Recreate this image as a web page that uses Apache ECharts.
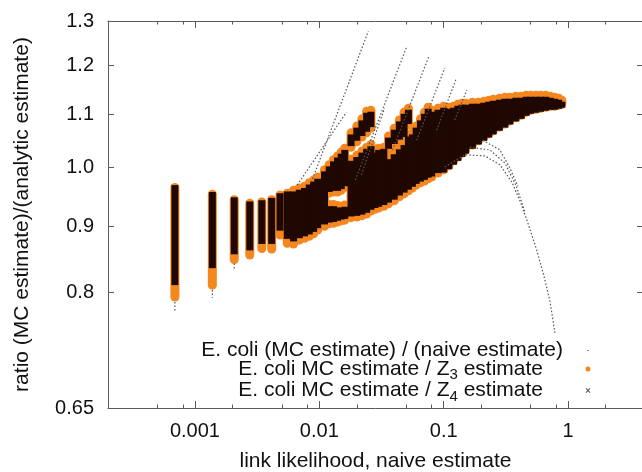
<!DOCTYPE html>
<html>
<head>
<meta charset="utf-8">
<script src="https://cdn.jsdelivr.net/npm/echarts@6/dist/echarts.min.js"></script>
<style>
  html, body { margin: 0; padding: 0; background: #fff; }
  #main { width: 642px; height: 472px; }
</style>
</head>
<body>
<div id="main"></div>
<script>
// ticks
const xMajorTicks = [0.001, 0.01, 0.1, 1];
const xMajorLabels = ['0.001', '0.01', '0.1', '1'];
const xMinorTicks = [0.0005, 0.0008, 0.002, 0.005, 0.008, 0.02, 0.05, 0.08, 0.2, 0.5, 0.8, 2];
const yTicks = [0.65, 0.8, 0.9, 1.0, 1.1, 1.2, 1.3];
const yLabels = ['0.65', '0.8', '0.9', '1.0', '1.1', '1.2', '1.3'];

// E. coli MC estimate / Z3 estimate : columns of points [x, low, high]
const z3Columns = [
  [0.00069, 0.793, 0.965], [0.00138, 0.810, 0.953], [0.00207, 0.848, 0.944], [0.00276, 0.855, 0.938],
  [0.00345, 0.865, 0.940], [0.00414, 0.864, 0.944], [0.00483, 0.886, 0.952], [0.00552, 0.873, 0.955],
  [0.0062, 0.872, 0.960], [0.0069, 0.878, 0.964], [0.0076, 0.881, 0.967], [0.0083, 0.884, 0.973],
  [0.0090, 0.888, 0.978], [0.0097, 0.894, 0.983], [0.011, 0.900, 0.996],
  [0.012, 0.955, 1.005], [0.012, 0.904, 0.936],
  [0.013, 0.957, 1.014], [0.013, 0.905, 0.936],
  [0.014, 0.957, 1.021], [0.014, 0.907, 0.934],
  [0.015, 0.960, 1.028], [0.015, 0.909, 0.933],
  [0.016, 0.965, 1.035], [0.016, 0.910, 0.935],
  [0.018, 1.037, 1.064], [0.018, 0.914, 1.015],
  [0.020, 1.047, 1.077], [0.020, 0.915, 1.022],
  [0.022, 1.056, 1.091], [0.022, 0.917, 1.030],
  [0.024, 1.064, 1.106], [0.024, 0.920, 1.037],
  [0.026, 1.073, 1.108], [0.026, 0.925, 1.042],
  [0.028, 0.928, 1.030], [0.030, 0.930, 1.035], [0.033, 0.933, 1.037],
  [0.036, 1.032, 1.058], [0.036, 0.937, 1.018],
  [0.040, 1.041, 1.073], [0.040, 0.942, 1.027],
  [0.044, 1.049, 1.089], [0.044, 0.949, 1.036],
  [0.048, 1.054, 1.104], [0.048, 0.954, 1.044],
  [0.052, 1.079, 1.112], [0.052, 0.959, 1.060],
  [0.056, 0.964, 1.064], [0.060, 0.969, 1.077], [0.065, 0.973, 1.091], [0.070, 0.976, 1.104],
  [0.075, 0.980, 1.114], [0.080, 0.983, 1.108], [0.090, 0.990, 1.112], [0.100, 0.996, 1.116],
  [0.110, 1.003, 1.114], [0.120, 1.012, 1.116], [0.130, 1.019, 1.120], [0.140, 1.026, 1.122],
  [0.150, 1.032, 1.122], [0.170, 1.041, 1.124], [0.190, 1.049, 1.124], [0.210, 1.056, 1.126],
  [0.230, 1.062, 1.128], [0.250, 1.068, 1.130], [0.280, 1.075, 1.132], [0.310, 1.081, 1.134],
  [0.340, 1.087, 1.134], [0.380, 1.093, 1.136], [0.420, 1.098, 1.136], [0.460, 1.104, 1.138],
  [0.500, 1.108, 1.138], [0.550, 1.110, 1.138], [0.600, 1.112, 1.138], [0.660, 1.114, 1.138],
  [0.720, 1.116, 1.136], [0.780, 1.116, 1.134], [0.840, 1.118, 1.132], [0.890, 1.120, 1.128]
];

// E. coli MC estimate / Z4 estimate : columns [x, low, high]
const z4Columns = [
  [0.00069, 0.810, 0.969], [0.00138, 0.835, 0.957], [0.00207, 0.856, 0.948], [0.00276, 0.862, 0.941],
  [0.00345, 0.872, 0.943], [0.00414, 0.872, 0.947], [0.00483, 0.893, 0.955], [0.00552, 0.880, 0.958],
  [0.0062, 0.876, 0.958], [0.0069, 0.881, 0.961], [0.0076, 0.884, 0.964], [0.0083, 0.887, 0.970],
  [0.0090, 0.891, 0.975], [0.0097, 0.897, 0.980], [0.011, 0.903, 0.993],
  [0.012, 0.957, 1.002], [0.012, 0.906, 0.933],
  [0.013, 0.959, 1.011], [0.013, 0.907, 0.933],
  [0.014, 0.959, 1.018], [0.014, 0.909, 0.931],
  [0.015, 0.962, 1.025], [0.015, 0.911, 0.930],
  [0.016, 0.967, 1.032], [0.016, 0.912, 0.932],
  [0.018, 1.039, 1.061], [0.018, 0.916, 1.012],
  [0.020, 1.049, 1.074], [0.020, 0.917, 1.019],
  [0.022, 1.058, 1.088], [0.022, 0.919, 1.027],
  [0.024, 1.066, 1.103], [0.024, 0.922, 1.034],
  [0.026, 1.075, 1.105], [0.026, 0.927, 1.039],
  [0.028, 0.930, 1.027], [0.030, 0.932, 1.032], [0.033, 0.935, 1.034],
  [0.036, 1.034, 1.055], [0.036, 0.939, 1.015],
  [0.040, 1.043, 1.070], [0.040, 0.944, 1.024],
  [0.044, 1.051, 1.086], [0.044, 0.951, 1.033],
  [0.048, 1.056, 1.101], [0.048, 0.956, 1.041],
  [0.052, 1.081, 1.109], [0.052, 0.961, 1.057],
  [0.056, 0.966, 1.061], [0.060, 0.971, 1.074], [0.065, 0.975, 1.088], [0.070, 0.978, 1.101],
  [0.075, 0.982, 1.111], [0.080, 0.984, 1.105], [0.090, 0.990, 1.109], [0.100, 0.991, 1.113],
  [0.110, 0.997, 1.111], [0.120, 1.005, 1.113], [0.130, 1.012, 1.117], [0.140, 1.019, 1.119],
  [0.150, 1.025, 1.119], [0.170, 1.034, 1.121], [0.190, 1.042, 1.121], [0.210, 1.049, 1.123],
  [0.230, 1.055, 1.125], [0.250, 1.061, 1.127], [0.280, 1.068, 1.129], [0.310, 1.074, 1.131],
  [0.340, 1.080, 1.131], [0.380, 1.086, 1.133], [0.420, 1.091, 1.133], [0.460, 1.097, 1.135],
  [0.500, 1.101, 1.135], [0.550, 1.103, 1.135], [0.600, 1.105, 1.135], [0.660, 1.107, 1.135],
  [0.720, 1.109, 1.133], [0.780, 1.109, 1.131], [0.840, 1.111, 1.129], [0.890, 1.113, 1.125]
];

// E. coli (MC estimate) / (naive estimate) : strands of points [x, y]
const naiveStrands = [
  [[0.00069, 0.786], [0.00069, 0.772]],
  [[0.00138, 0.803], [0.00138, 0.792]],
  [[0.00207, 0.842], [0.00207, 0.834]],
  [[0.00665, 0.969], [0.0165, 1.104]],
  [[0.00862, 0.974], [0.0248, 1.277]],
  [[0.0195, 0.978], [0.0503, 1.241]],
  [[0.0218, 0.987], [0.0334, 1.112]],
  [[0.0388, 1.032], [0.0757, 1.219]],
  [[0.0606, 1.050], [0.102, 1.195]],
  [[0.0878, 1.069], [0.125, 1.170]],
  [[0.1227, 1.089], [0.1533, 1.149]],
  [[0.1019, 1.001], [0.1477, 1.023], [0.2141, 1.021], [0.2829, 1.005], [0.3535, 0.974], [0.4178, 0.938],
   [0.4848, 0.900], [0.5623, 0.861], [0.6404, 0.823], [0.7161, 0.786], [0.785, 0.743]],
  [[0.162, 1.037], [0.235, 1.032], [0.310, 1.008], [0.3806, 0.969], [0.4499, 0.923]],
  [[0.2063, 1.050], [0.2829, 1.032], [0.3404, 0.999], [0.3952, 0.967]]
];

const names = {
  naive: '{a|E. coli (MC estimate) / (naive estimate)}',
  z3: '{a|E. coli MC estimate / Z}{s|3}{a| estimate}{g| }',
  z4: '{a|E. coli MC estimate / Z}{s|4}{a| estimate}{g| }'
};

const orange = '#f5871f';
const dark = '#1f0802';
const axisColor = '#5a5a5a';
const font = 'Liberation Sans, Arial, sans-serif';

function nearestLabel(values, labels, v) {
  let best = 0;
  values.forEach(function (t, i) {
    if (Math.abs(Math.log(t) - Math.log(v)) < Math.abs(Math.log(values[best]) - Math.log(v))) best = i;
  });
  return labels[best];
}

function columnRenderer(color, width, cap) {
  return function (params, api) {
    const x = api.value(0);
    const p1 = api.coord([x, api.value(1)]);
    const p2 = api.coord([x, api.value(2)]);
    return {
      type: 'line',
      shape: { x1: p1[0], y1: p1[1], x2: p2[0], y2: p2[1] },
      style: { stroke: color, lineWidth: width, lineCap: cap }
    };
  };
}

function xAxisDef(position, ticks, len, withLine) {
  return {
    type: 'log', min: 0.0002, max: 4, position: position,
    axisLine: { show: withLine, onZero: false, lineStyle: { color: axisColor, width: 1 } },
    axisTick: { inside: true, length: len, customValues: ticks, lineStyle: { color: axisColor } },
    axisLabel: { show: false },
    splitLine: { show: false }
  };
}

const bottomMajor = xAxisDef('bottom', xMajorTicks, 7, true);
bottomMajor.axisLabel = {
  show: true, customValues: xMajorTicks, fontSize: 20, color: '#111', fontFamily: font, margin: 13,
  formatter: function (v) { return nearestLabel(xMajorTicks, xMajorLabels, v); }
};
bottomMajor.name = 'link likelihood, naive estimate';
bottomMajor.nameLocation = 'middle';
bottomMajor.nameGap = 43;
bottomMajor.nameTextStyle = { fontSize: 21, color: '#111', fontFamily: font };

const series = [];
naiveStrands.forEach(function (s) {
  series.push({
    name: 'naive', type: 'line', data: s, showSymbol: false, symbol: 'none', silent: true,
    xAxisIndex: 0, yAxisIndex: 0,
    lineStyle: { color: '#555', width: 1.2, type: [1.5, 2] },
    itemStyle: { color: '#333' }
  });
});
series.push({
  name: 'z3', type: 'custom', data: z3Columns, encode: { x: 0, y: [1, 2] },
  xAxisIndex: 0, yAxisIndex: 0, itemStyle: { color: orange },
  renderItem: columnRenderer(orange, 9, 'round')
});
series.push({
  name: 'z4', type: 'custom', data: z4Columns, encode: { x: 0, y: [1, 2] },
  xAxisIndex: 0, yAxisIndex: 0, itemStyle: { color: '#444' },
  renderItem: columnRenderer(dark, 7, 'butt')
});

const chart = echarts.init(document.getElementById('main'));
chart.setOption({
  animation: false,
  backgroundColor: '#fff',
  textStyle: { fontFamily: font },
  grid: { left: 108, right: -1, top: 21, bottom: 64, outerBoundsMode: 'none', containLabel: false },
  xAxis: [
    bottomMajor,
    xAxisDef('bottom', xMinorTicks, 3.5, false),
    xAxisDef('top', xMajorTicks, 7, true),
    xAxisDef('top', xMinorTicks, 3.5, false)
  ],
  yAxis: [
    {
      type: 'log', min: 0.65, max: 1.3, position: 'left',
      axisLine: { show: true, onZero: false, lineStyle: { color: axisColor } },
      axisTick: { inside: true, length: 6, customValues: yTicks, lineStyle: { color: axisColor } },
      axisLabel: {
        customValues: yTicks, fontSize: 20, color: '#111', fontFamily: font, margin: 14,
        formatter: function (v) { return nearestLabel(yTicks, yLabels, v); }
      },
      splitLine: { show: false },
      name: 'ratio (MC estimate)/(analytic estimate)',
      nameLocation: 'middle', nameGap: 75,
      nameTextStyle: { fontSize: 21, color: '#111', fontFamily: font }
    },
    {
      type: 'log', min: 0.65, max: 1.3, position: 'right',
      axisLine: { show: false },
      axisTick: { inside: true, length: 6, customValues: yTicks, lineStyle: { color: axisColor } },
      axisLabel: { show: false },
      splitLine: { show: false }
    }
  ],
  legend: {
    orient: 'vertical', align: 'right', right: 49, top: 340, padding: 0,
    itemGap: -2.5, itemWidth: 40, itemHeight: 10, selectedMode: false,
    data: [
      { name: 'naive', icon: 'path://M0,0M10,10M4.4,4.4h1.2v1.2h-1.2z', itemStyle: { color: '#333' } },
      { name: 'z3', icon: 'path://M0,0M10,10M2.5,5a2.5,2.5 0 1,0 5,0a2.5,2.5 0 1,0 -5,0z', itemStyle: { color: orange } },
      { name: 'z4', icon: 'path://M0,0M10,10M2.6,3.3L3.3,2.6L5,4.3L6.7,2.6L7.4,3.3L5.7,5L7.4,6.7L6.7,7.4L5,5.7L3.3,7.4L2.6,6.7L4.3,5z', itemStyle: { color: '#555' } }
    ],
    formatter: function (name) { return names[name]; },
    textStyle: {
      fontSize: 21, color: '#111', fontFamily: font,
      rich: {
        a: { fontSize: 21, lineHeight: 27, color: '#111', fontFamily: font },
        s: { fontSize: 15, lineHeight: 15, verticalAlign: 'bottom', color: '#111', fontFamily: font },
        g: { width: 20 }
      }
    }
  },
  series: series
});
</script>
</body>
</html>
